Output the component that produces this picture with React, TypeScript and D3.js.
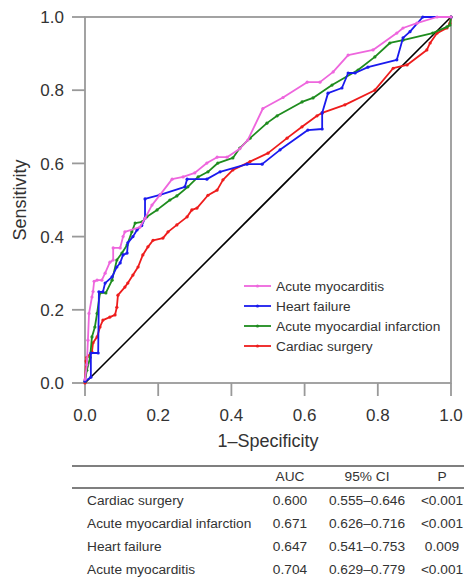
import React from 'react';
import * as d3 from 'd3';

// ROC points: [1 - specificity, sensitivity]
const cardiacSurgery: [number, number][] = [
  [0, 0], [0.003, 0.06], [0.005, 0.07], [0.019, 0.085], [0.022, 0.11], [0.033, 0.126],
  [0.041, 0.153], [0.049, 0.172], [0.068, 0.18], [0.082, 0.186], [0.087, 0.207], [0.09, 0.24],
  [0.109, 0.262], [0.117, 0.273], [0.131, 0.295], [0.145, 0.317], [0.158, 0.35], [0.172, 0.372],
  [0.186, 0.39], [0.213, 0.396], [0.227, 0.413], [0.251, 0.432], [0.279, 0.454], [0.292, 0.473],
  [0.306, 0.478], [0.336, 0.513], [0.361, 0.527], [0.377, 0.555], [0.404, 0.582], [0.451, 0.605],
  [0.5, 0.628], [0.552, 0.669], [0.593, 0.7], [0.634, 0.73], [0.648, 0.738], [0.71, 0.76],
  [0.792, 0.8], [0.842, 0.86], [0.88, 0.869], [0.934, 0.91], [0.943, 0.929], [0.962, 0.956],
  [0.989, 0.97], [0.997, 0.983], [1, 1],
];

const acuteMI: [number, number][] = [
  [0, 0.005], [0.005, 0.035], [0.014, 0.07], [0.019, 0.126], [0.027, 0.153], [0.033, 0.19],
  [0.041, 0.246], [0.057, 0.246], [0.074, 0.281], [0.087, 0.336], [0.101, 0.355], [0.115, 0.377],
  [0.128, 0.413], [0.137, 0.437], [0.156, 0.44], [0.169, 0.454], [0.197, 0.473], [0.232, 0.5],
  [0.251, 0.511], [0.281, 0.536], [0.309, 0.563], [0.336, 0.577], [0.363, 0.601], [0.404, 0.615],
  [0.423, 0.642], [0.451, 0.669], [0.497, 0.71], [0.525, 0.73], [0.593, 0.768], [0.623, 0.779],
  [0.675, 0.814], [0.746, 0.855], [0.792, 0.891], [0.833, 0.929], [0.869, 0.937], [0.95, 0.956],
  [0.989, 0.973], [0.997, 0.978], [1, 1],
];

const heartFailure: [number, number][] = [
  [0, 0.005], [0.016, 0.016], [0.016, 0.082], [0.036, 0.082], [0.038, 0.249], [0.049, 0.249],
  [0.055, 0.273], [0.074, 0.29], [0.087, 0.317], [0.096, 0.328], [0.104, 0.35], [0.115, 0.355],
  [0.117, 0.383], [0.131, 0.4], [0.142, 0.418], [0.155, 0.43], [0.164, 0.45], [0.164, 0.503],
  [0.205, 0.514], [0.273, 0.536], [0.279, 0.557], [0.333, 0.557], [0.369, 0.577], [0.443, 0.598],
  [0.484, 0.598], [0.533, 0.637], [0.609, 0.691], [0.648, 0.694], [0.648, 0.738], [0.664, 0.792],
  [0.702, 0.806], [0.719, 0.847], [0.738, 0.847], [0.773, 0.863], [0.852, 0.883], [0.869, 0.943],
  [0.888, 0.96], [0.923, 1], [1, 1],
];

const acuteMyocarditis: [number, number][] = [
  [0, 0.01], [0.005, 0.05], [0.008, 0.117], [0.011, 0.19], [0.019, 0.235], [0.022, 0.25],
  [0.025, 0.278], [0.033, 0.281], [0.046, 0.281], [0.055, 0.3], [0.068, 0.33], [0.077, 0.336],
  [0.077, 0.369], [0.096, 0.369], [0.104, 0.4], [0.109, 0.413], [0.15, 0.426], [0.164, 0.45],
  [0.183, 0.486], [0.205, 0.514], [0.238, 0.557], [0.268, 0.563], [0.3, 0.574], [0.333, 0.601],
  [0.361, 0.617], [0.388, 0.617], [0.423, 0.64], [0.445, 0.664], [0.486, 0.75], [0.541, 0.78],
  [0.607, 0.822], [0.642, 0.822], [0.678, 0.85], [0.719, 0.896], [0.787, 0.91], [0.852, 0.956],
  [0.869, 0.97], [0.907, 0.983], [0.962, 1], [1, 1],
];

const seriesNames = ['Acute myocarditis', 'Heart failure', 'Acute myocardial infarction', 'Cardiac surgery'];
const seriesColors = ['#ee66dd', '#1a1aee', '#1e8c1e', '#ee1c1c'];
const seriesData = [acuteMyocarditis, heartFailure, acuteMI, cardiacSurgery];

const tableHeader = ['', 'AUC', '95% CI', 'P'];
const tableRows = ['Cardiac surgery', 'Acute myocardial infarction', 'Heart failure', 'Acute myocarditis'];
const tableAuc = ['0.600', '0.671', '0.647', '0.704'];
const tableCi = ['0.555–0.646', '0.626–0.716', '0.541–0.753', '0.629–0.779'];
const tableP = ['<0.001', '<0.001', '0.009', '<0.001'];

const FONT = '"Liberation Sans", Arial, Helvetica, sans-serif';
const AXIS = '#999';
const TEXT = '#333';

export default function App() {
  const width = 464;
  const height = 581;
  const left = 85;
  const right = 451;
  const top = 17;
  const bottom = 383;

  const x = d3.scaleLinear().domain([0, 1]).range([left, right]);
  const y = d3.scaleLinear().domain([0, 1]).range([bottom, top]);
  const fmt = d3.format('.1f');
  const ticks = x.ticks(5);

  const line = d3
    .line<[number, number]>()
    .x((d) => x(d[0]))
    .y((d) => y(d[1]));

  // draw from bottom of legend upward so pink sits on top
  const drawOrder = [3, 2, 1, 0];

  const legendX = 244;
  const legendY = 286;
  const legendStep = 20;

  const colX = [87, 290, 367, 442];
  const headerY = 476;
  const rowY = [500, 523, 546, 569];

  return (
    <svg
      width={width}
      height={height}
      style={{ position: 'absolute', left: 0, top: 0, background: '#fff' }}
      fontFamily={FONT}
    >
      {/* frame */}
      <rect x={left} y={top} width={right - left} height={bottom - top} fill="none" stroke={AXIS} strokeWidth={1.8} />

      {/* y ticks */}
      {ticks.map((t) => (
        <g key={'y' + t}>
          <line x1={left - 13} x2={left} y1={y(t)} y2={y(t)} stroke={AXIS} strokeWidth={1.8} />
          <text x={left - 21} y={y(t)} dy="0.36em" textAnchor="end" fontSize={17} fill={TEXT}>
            {fmt(t)}
          </text>
        </g>
      ))}

      {/* x ticks */}
      {ticks.map((t) => (
        <g key={'x' + t}>
          <line x1={x(t)} x2={x(t)} y1={bottom} y2={bottom + 13} stroke={AXIS} strokeWidth={1.8} />
          <text x={x(t)} y={421} textAnchor="middle" fontSize={17} fill={TEXT}>
            {fmt(t)}
          </text>
        </g>
      ))}

      <text x={(left + right) / 2} y={447} textAnchor="middle" fontSize={18} fill={TEXT}>
        1–Specificity
      </text>
      <text
        transform={`translate(26, ${(top + bottom) / 2}) rotate(-90)`}
        textAnchor="middle"
        fontSize={18}
        fill={TEXT}
      >
        Sensitivity
      </text>

      {/* reference diagonal */}
      <line x1={x(0)} y1={y(0)} x2={x(1)} y2={y(1)} stroke="#000" strokeWidth={1.6} />

      {/* ROC curves */}
      {drawOrder.map((i) => (
        <g key={seriesNames[i]}>
          <path d={line(seriesData[i]) as string} fill="none" stroke={seriesColors[i]} strokeWidth={1.8} strokeLinejoin="round" />
          {seriesData[i].map((d, j) => (
            <circle key={j} cx={x(d[0])} cy={y(d[1])} r={1.6} fill={seriesColors[i]} />
          ))}
        </g>
      ))}

      {/* legend */}
      {seriesNames.map((name, i) => (
        <g key={'lg' + name} transform={`translate(${legendX}, ${legendY + i * legendStep})`}>
          <line x1={0} x2={27} y1={0} y2={0} stroke={seriesColors[i]} strokeWidth={1.8} />
          <circle cx={13.5} cy={0} r={1.6} fill={seriesColors[i]} />
          <text x={32} y={0} dy="0.35em" fontSize={13.7} fill={TEXT}>
            {name}
          </text>
        </g>
      ))}

      {/* table */}
      <line x1={72} x2={width} y1={466} y2={466} stroke="#555" strokeWidth={1.5} />
      <line x1={72} x2={width} y1={488} y2={488} stroke="#555" strokeWidth={1.5} />
      {tableHeader.map((h, i) =>
        i === 0 ? null : (
          <text key={'h' + i} x={colX[i]} y={headerY} dy="0.35em" textAnchor="middle" fontSize={13.7} fill={TEXT}>
            {h}
          </text>
        )
      )}
      {tableRows.map((r, i) => (
        <g key={'r' + r} fontSize={13.7} fill={TEXT}>
          <text x={colX[0]} y={rowY[i]} dy="0.35em">{r}</text>
          <text x={colX[1]} y={rowY[i]} dy="0.35em" textAnchor="middle">{tableAuc[i]}</text>
          <text x={colX[2]} y={rowY[i]} dy="0.35em" textAnchor="middle">{tableCi[i]}</text>
          <text x={colX[3]} y={rowY[i]} dy="0.35em" textAnchor="middle">{tableP[i]}</text>
        </g>
      ))}
    </svg>
  );
}
